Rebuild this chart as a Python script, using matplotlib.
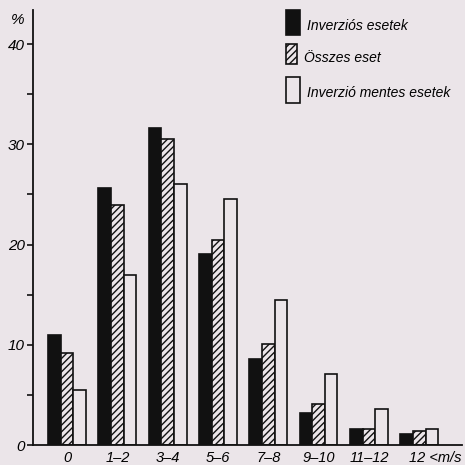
import numpy as np
import matplotlib
matplotlib.use("Agg")
import matplotlib.pyplot as plt
from matplotlib.patches import Rectangle

plt.rcParams['font.family'] = ['Liberation Sans', 'DejaVu Sans']
plt.rcParams['hatch.linewidth'] = 1.0

# data (percent of cases per wind speed class)
categories = ['0', '1\u20132', '3\u20134', '5\u20136', '7\u20138', '9\u201310', '11\u201312', '12 <']
inverzios = [11.0, 25.6, 31.6, 19.1, 8.6, 3.2, 1.6, 1.1]
osszes = [9.2, 23.9, 30.5, 20.5, 10.1, 4.1, 1.6, 1.4]
mentes = [5.5, 17.0, 26.0, 24.5, 14.5, 7.1, 3.6, 1.6]
labels = ['Inverziós esetek', 'Összes eset', 'Inverzió mentes esetek']

bg = '#ebe5e9'
W = 465.0

fig = plt.figure(figsize=(4.65, 4.65), dpi=100, facecolor=bg)
ax = fig.add_axes([33 / W, 20 / W, 429 / W, 435 / W])
ax.set_facecolor(bg)

x = np.arange(len(categories))
w = 0.25
ax.bar(x - w, inverzios, w, color='#111111', edgecolor='#111111', lw=1.2)
ax.bar(x, osszes, w, color=bg, edgecolor='#111111', hatch='/////', lw=1.2)
ax.bar(x + w, mentes, w, color=bg, edgecolor='#111111', lw=1.2)

ax.set_xlim(-0.676, 7.85)
ax.set_ylim(0, 43.4)

for s in ['top', 'right']:
    ax.spines[s].set_visible(False)
for s in ['left', 'bottom']:
    ax.spines[s].set_linewidth(1.3)
    ax.spines[s].set_color('#111111')

ax.set_yticks([0, 10, 20, 30, 40])
ax.set_yticks([5, 15, 25, 35], minor=True)
ax.tick_params(axis='y', which='both', length=4, width=1.2, color='#111111',
               labelsize=11, pad=2)
for t in ax.get_yticklabels():
    t.set_fontstyle('italic')

ax.set_xticks(x[:-1])
ax.set_xticklabels(categories[:-1], fontsize=10.5, fontstyle='italic')
ax.tick_params(axis='x', length=0, pad=4)
ax.text(6.8, -0.55, categories[-1] + 'm/s', fontsize=10.5, fontstyle='italic',
        ha='left', va='top', transform=ax.transData, clip_on=False)

fig.text(18 / W, 1 - 20 / W, '%', fontsize=11, fontstyle='italic',
         ha='center', va='center')

# legend
boxes = [(286, 10, 14, 25, '#111111', None),
         (286, 44, 11, 20, bg, '/////'),
         (286, 77, 14, 26, bg, None)]
text_y = [30, 62, 97]
for (bx, by, bw, bh, fc, hatch), ty, lab in zip(boxes, text_y, labels):
    fig.add_artist(Rectangle((bx / W, 1 - (by + bh) / W), bw / W, bh / W,
                             transform=fig.transFigure, facecolor=fc,
                             edgecolor='#111111', hatch=hatch, lw=1.2))
    fig.text((bx + bw + 7) / W, 1 - ty / W, lab, fontsize=10,
             fontstyle='italic', ha='left', va='baseline')

fig.savefig('out.png', dpi=100, facecolor=bg)
